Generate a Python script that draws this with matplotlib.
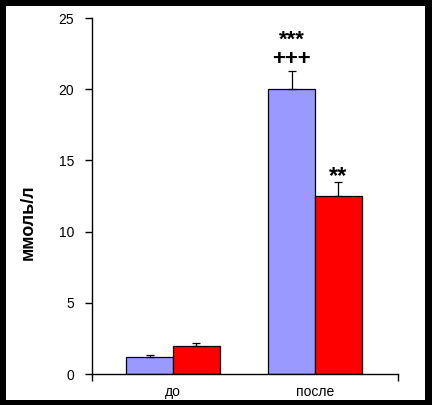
import numpy as np
import matplotlib
matplotlib.use("Agg")
import matplotlib.pyplot as plt
from matplotlib.patches import Rectangle

plt.rcParams['font.family'] = ['Liberation Sans', 'DejaVu Sans']

categories = ['до', 'после']
blue_vals = [1.2, 20.0]
blue_err = [0.1, 1.25]
red_vals = [2.0, 12.5]
red_err = [0.15, 1.0]
ylabel = 'ммоль/л'

fig = plt.figure(figsize=(4.32, 4.05), dpi=100)
fig.patch.set_facecolor('black')
# white inner panel leaving a black frame
fig.add_artist(Rectangle((6 / 432, 5 / 405), 419 / 432, 394 / 405,
                         transform=fig.transFigure, facecolor='white',
                         edgecolor='none', zorder=0))

ax = fig.add_axes([92 / 432, 31 / 405, 306 / 432, 356 / 405])
ax.set_facecolor('none')

x = np.arange(len(categories))
w = 0.33
ax.bar(x - w / 2, blue_vals, w, color='#9999FF', edgecolor='black', linewidth=0.9,
       yerr=[np.zeros(2), blue_err], error_kw=dict(ecolor='black', elinewidth=0.9, capsize=3, capthick=0.9))
ax.bar(x + w / 2, red_vals, w, color='#FF0000', edgecolor='black', linewidth=0.9,
       yerr=[np.zeros(2), red_err], error_kw=dict(ecolor='black', elinewidth=0.9, capsize=3, capthick=0.9))

# significance marks
ax.text(1 - w / 2, 22.75, '***\n+++', ha='center', va='center', multialignment='center',
        fontsize=16, fontweight='bold', linespacing=0.9)
ax.text(1 + w / 2, 13.9, '**', ha='center', va='center', fontsize=17, fontweight='bold')

ax.set_xlim(-0.57, 1.585)
ax.set_ylim(0, 25)
ax.set_yticks(range(0, 26, 5))
ax.set_xticks([-0.57, 1.585])
ax.set_xticklabels(['', ''])
ax.set_xticks(x, minor=True)
ax.set_xticklabels(categories, minor=True)
ax.tick_params(axis='x', which='minor', length=0, pad=8, labelsize=10)
ax.tick_params(axis='x', which='major', length=5, width=1, direction='out')
ax.tick_params(axis='y', length=5, width=1, direction='out', labelsize=10, pad=8)
for s in ['top', 'right']:
    ax.spines[s].set_visible(False)
for s in ['left', 'bottom']:
    ax.spines[s].set_linewidth(1)

fig.text(28 / 432, 1 - 222 / 405, ylabel, rotation=90, ha='center', va='center',
         fontsize=13, fontweight='bold')

fig.savefig('out.png', dpi=100, facecolor=fig.get_facecolor())
